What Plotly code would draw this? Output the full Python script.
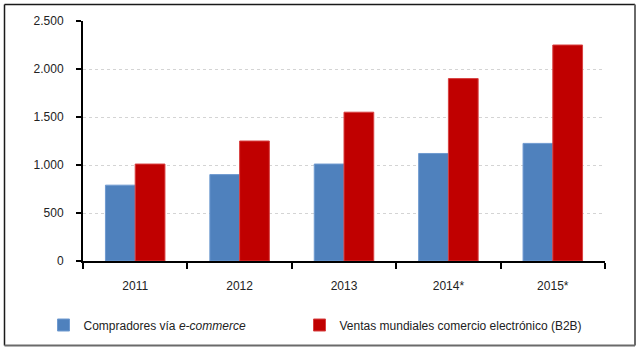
import plotly.graph_objects as go

years = ["2011", "2012", "2013", "2014*", "2015*"]
compradores = [790, 900, 1010, 1120, 1225]
ventas_b2b = [1010, 1250, 1550, 1900, 2250]
y_ticks = [0, 500, 1000, 1500, 2000, 2500]

name_a = "Compradores vía <i>e-commerce</i>"
name_b = "Ventas mundiales comercio electrónico (B2B)"

W, H = 640, 352
ml, mr, mt, mb = 83, 35, 21, 91

fig = go.Figure()
fig.add_trace(go.Bar(x=years, y=compradores, name=name_a, legend="legend",
                     marker=dict(color="#4F81BD", line=dict(color="#6F9AD0", width=1))))
fig.add_trace(go.Bar(x=years, y=ventas_b2b, name=name_b, legend="legend2",
                     marker=dict(color="#C00000", line=dict(color="#D84040", width=1))))

font = dict(family="Liberation Sans, Arial, sans-serif", size=12, color="#222222")
leg_common = dict(orientation="h", xref="container", yref="container",
                  xanchor="left", yanchor="middle", font=font,
                  bgcolor="rgba(0,0,0,0)")

fig.update_layout(
    width=W, height=H,
    margin=dict(l=ml, r=mr, t=mt, b=mb),
    paper_bgcolor="white", plot_bgcolor="white",
    barmode="group", bargap=0.43, bargroupgap=0,
    separators=",.",
    font=font,
    showlegend=True,
    legend=dict(x=43.5 / W, y=1 - 325 / H, **leg_common),
    legend2=dict(x=299.5 / W, y=1 - 325 / H, **leg_common),
    xaxis=dict(showline=True, linecolor="black", linewidth=2,
               ticks="outside", tickson="boundaries", ticklen=6, tickwidth=2, tickcolor="black",
               showgrid=False, ticklabelstandoff=13, fixedrange=True),
    yaxis=dict(range=[0, 2500], tickvals=y_ticks, separatethousands=True,
               showline=True, linecolor="black", linewidth=2,
               ticks="outside", ticklen=5, tickwidth=1.5, tickcolor="black",
               showgrid=True, gridcolor="#D4D4D4", gridwidth=1, griddash="dot",
               zeroline=False, ticklabelstandoff=10, fixedrange=True),
)

pw = W - ml - mr
ph = H - mt - mb

def px_x(p):
    return (p - ml) / pw

def px_y(p):
    return (H - mb - p) / ph

x0, x1 = px_x(4.5), px_x(635)
y0, y1 = px_y(4.5), px_y(345.5)
# outer frame: dark top/left, gray right/bottom
fig.add_shape(type="line", xref="paper", yref="paper", x0=x0, x1=x1, y0=y0, y1=y0,
              line=dict(color="#1a1a1a", width=1.5))
fig.add_shape(type="line", xref="paper", yref="paper", x0=x0, x1=x0, y0=y0, y1=y1,
              line=dict(color="#1a1a1a", width=1.5))
fig.add_shape(type="line", xref="paper", yref="paper", x0=x1, x1=x1, y0=y0, y1=y1,
              line=dict(color="#6a6a6a", width=2))
fig.add_shape(type="line", xref="paper", yref="paper", x0=x0, x1=x1, y0=y1, y1=y1,
              line=dict(color="#6a6a6a", width=2))
# y-axis line stub extending just below zero, as in the reference
fig.add_shape(type="line", xref="paper", yref="paper", x0=0, x1=0, y0=0, y1=px_y(264),
              line=dict(color="black", width=2))

fig.write_html("out.html", config={"displayModeBar": False})
